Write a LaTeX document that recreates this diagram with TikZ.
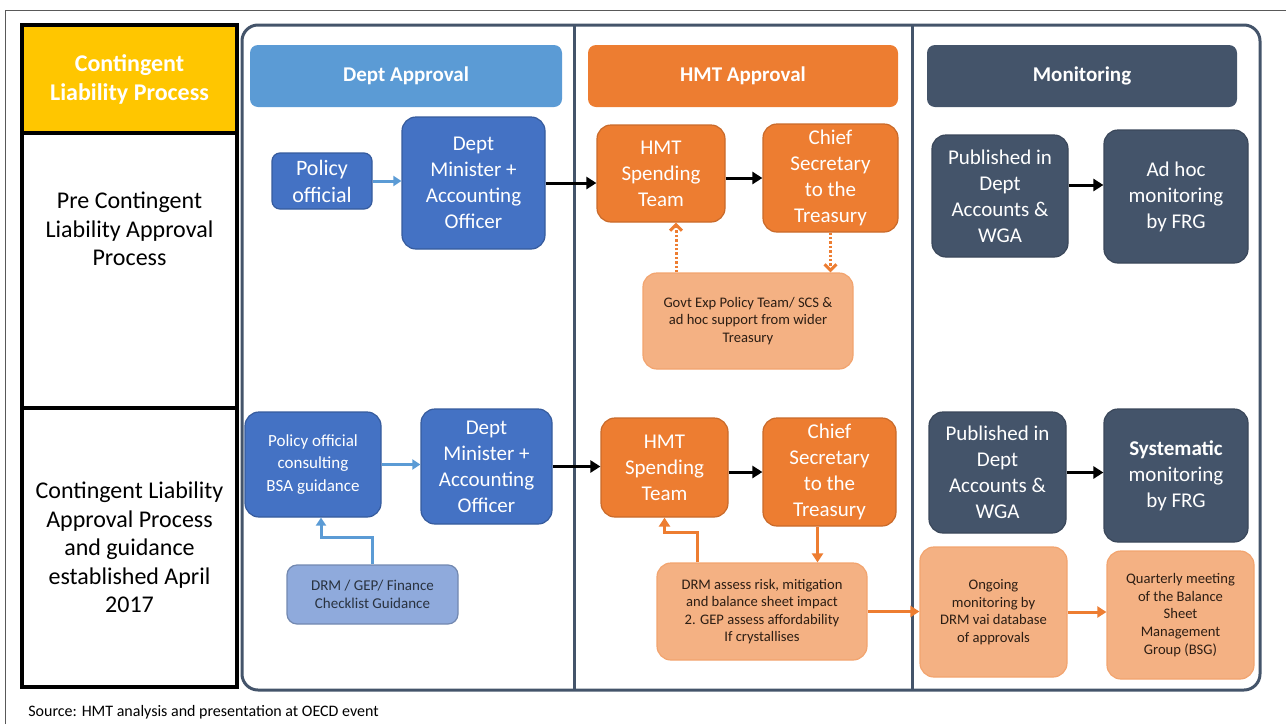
\documentclass[tikz,border=0pt]{standalone}
\usepackage{fontspec}
\setmainfont{Carlito}
\usetikzlibrary{arrows.meta}
\definecolor{clyellow}{RGB}{255,198,0}
\definecolor{clblue}{RGB}{68,114,196}
\definecolor{cllightblue}{RGB}{91,155,213}
\definecolor{clorange}{RGB}{237,125,49}
\definecolor{clnavy}{RGB}{68,84,106}
\definecolor{clpeach}{RGB}{244,177,131}
\definecolor{clcheck}{RGB}{143,170,220}
\definecolor{cltext}{RGB}{45,30,20}

\begin{document}
\begin{tikzpicture}[x=0.5pt,y=-0.5pt]
\tikzstyle{rowlabel}=[draw=black,line width=2pt,inner sep=0pt,align=center,minimum width=107.5pt,font=\fontsize{12}{14.25}\selectfont]
\tikzstyle{rowtext}=[inner sep=0pt,align=center,font=\fontsize{12}{14.25}\selectfont]
\tikzstyle{headbar}=[rounded corners=4pt,inner sep=0pt,minimum height=31pt,text=white,font=\fontsize{10.5}{13}\selectfont\bfseries]
\tikzstyle{box}=[rounded corners=7pt,inner sep=0pt,align=center,line width=0.6pt,font=\fontsize{10.5}{13}\selectfont]
\tikzstyle{blubox}=[box,fill=clblue,draw=clblue!80!black,text=white]
\tikzstyle{orgbox}=[box,fill=clorange,draw=clorange!85!black,text=white]
\tikzstyle{navbox}=[box,fill=clnavy,draw=clnavy!85!black,text=white]
\tikzstyle{pchbox}=[box,fill=clpeach,draw=clorange!70,text=cltext,font=\fontsize{7.3}{8.8}\selectfont]
\tikzstyle{blk}=[draw=black,line width=1.5pt,-{Triangle[length=5pt,width=6pt]}]
\tikzstyle{blu}=[draw=cllightblue,line width=1.5pt,-{Triangle[length=4pt,width=5pt]}]
\tikzstyle{org}=[draw=clorange,line width=1.5pt,-{Triangle[length=4.5pt,width=5.5pt]}]
\tikzstyle{orgdot}=[draw=clorange,line width=1.5pt,dash pattern=on 1.2pt off 1pt,-{Straight Barb[length=3pt,width=6pt]}]

\useasboundingbox (0,0) rectangle (1286,724);
\draw[gray!70!black,line width=0.5pt] (5,724) -- (5,10) -- (1286,10);

% frame and columns
\draw[clnavy,line width=1.5pt,rounded corners=8pt] (242,25) rectangle (1260,690);
\draw[clnavy,line width=1.5pt] (574,25) -- (574,690);
\draw[clnavy,line width=1.5pt] (912,25) -- (912,690);

% row labels
\draw (129.5,270.5) node[rowlabel,minimum height=137.5pt] (pre) {};
\draw (129.5,229) node[rowtext] (pretext) {Pre Contingent\\Liability Approval\\Process};
\draw (129.5,547.5) node[rowlabel,minimum height=139.5pt] (post) {Contingent Liability\\Approval Process\\and guidance\\established April\\2017};
\draw (129.5,79) node[rowlabel,fill=clyellow,minimum height=54pt,text=white,font=\fontsize{12}{14.5}\selectfont\bfseries] (title) {Contingent\\Liability Process};

% headers
\draw (406,76) node[headbar,fill=cllightblue,minimum width=156pt] (depthead) {Dept Approval};
\draw (743,76) node[headbar,fill=clorange,minimum width=155pt] (hmthead) {HMT Approval};
\draw (1082,76) node[headbar,fill=clnavy,minimum width=155pt] (monhead) {Monitoring};

% pre approval row
\draw (322,181) node[blubox,rounded corners=4pt,minimum width=50pt,minimum height=28pt,font=\fontsize{11}{13.5}\selectfont] (pol1) {Policy\\official};
\draw (473.5,183) node[blubox,minimum width=71.5pt,minimum height=66pt] (dep1) {Dept\\Minister +\\Accounting\\Officer};
\draw (661,173.5) node[orgbox,minimum width=64pt,minimum height=48.5pt] (hmt1) {HMT\\Spending\\Team};
\draw (830.5,178) node[orgbox,minimum width=67.5pt,minimum height=54pt] (chf1) {Chief\\Secretary\\to the\\Treasury};
\draw (748,321) node[pchbox,minimum width=105pt,minimum height=48pt] (gov1) {Govt Exp Policy Team/ SCS \&\\ad hoc support from wider\\Treasury};
\draw (1000,196) node[navbox,minimum width=68pt,minimum height=61pt] (pub1) {Published in\\Dept\\Accounts \&\\WGA};
\draw (1176,196.5) node[navbox,minimum width=72pt,minimum height=66.5pt] (adh1) {Ad hoc\\monitoring\\by FRG};

\draw[blu] (pol1.east) -- (pol1.east -| dep1.west);
\draw[blk] (dep1.east) -- (dep1.east -| hmt1.west);
\draw[blk] (chf1.west -| hmt1.east) -- (chf1.west);
\draw[orgdot] ([xshift=7.5pt]hmt1.south |- gov1.north) -- ([xshift=7.5pt]hmt1.south);
\draw[orgdot] (chf1.south) -- (chf1.south |- gov1.north);
\draw[blk] ([yshift=5.5pt]pub1.east) -- ([yshift=5.5pt]pub1.east -| adh1.west);

% approval process row
\draw (313,464.5) node[blubox,minimum width=68pt,minimum height=52.5pt,font=\fontsize{8.5}{11.2}\selectfont] (pol2) {Policy official\\consulting\\BSA guidance};
\draw (486.5,466.5) node[blubox,minimum width=65.5pt,minimum height=57.5pt] (dep2) {Dept\\Minister +\\Accounting\\Officer};
\draw (372.5,594.5) node[box,rounded corners=5pt,fill=clcheck,draw=clcheck!80!black,text=clnavy!60!black,minimum width=85.5pt,minimum height=29.5pt,font=\fontsize{7.5}{9.2}\selectfont] (chk2) {DRM / GEP/ Finance\\Checklist Guidance};
\draw (664.5,467.5) node[orgbox,minimum width=63.5pt,minimum height=49.5pt] (hmt2) {HMT\\Spending\\Team};
\draw (829.5,472) node[orgbox,minimum width=66.5pt,minimum height=54pt] (chf2) {Chief\\Secretary\\to the\\Treasury};
\draw (762,611.5) node[pchbox,minimum width=105pt,minimum height=48.5pt] (drm2) {DRM assess risk, mitigation\\and balance sheet impact\\2. GEP assess affordability\\If crystallises};
\draw (997.5,472.5) node[navbox,minimum width=68.5pt,minimum height=60.5pt] (pub2) {Published in\\Dept\\Accounts \&\\WGA};
\draw (1176,475.5) node[navbox,minimum width=72pt,minimum height=66.5pt] (sys2) {\textbf{Systematic}\\monitoring\\by FRG};
\draw (993.5,612) node[pchbox,minimum width=73.5pt,minimum height=65pt] (ong2) {Ongoing\\monitoring by\\DRM vai database\\of approvals};
\draw (1180.5,615) node[pchbox,minimum width=73.5pt,minimum height=64pt] (qtr2) {Quarterly meeting\\of the Balance\\Sheet\\Management\\Group (BSG)};

\draw[blu] (pol2.east) -- (pol2.east -| dep2.west);
\draw[blu] (chk2.north) -- ++(0,-27) -| ([xshift=4pt]pol2.south);
\draw[blk] (dep2.east) -- (dep2.east -| hmt2.west);
\draw[blk] (chf2.west -| hmt2.east) -- (chf2.west);
\draw[org] ([xshift=-32.5pt]drm2.north) -- ++(0,-30) -| (hmt2.south);
\draw[org] ([xshift=-6pt]chf2.south) -- ([xshift=-6pt]chf2.south |- drm2.north);
\draw[org] (drm2.east) -- (drm2.east -| ong2.west);
\draw[org] (ong2.east) -- (ong2.east -| qtr2.west);
\draw[blk] (pub2.east) -- (pub2.east -| sys2.west);

\draw (28,712) node[anchor=west,inner sep=0pt,font=\fontsize{8}{10}\selectfont] (src) {Source: HMT analysis and presentation at OECD event};
\end{tikzpicture}
\end{document}
